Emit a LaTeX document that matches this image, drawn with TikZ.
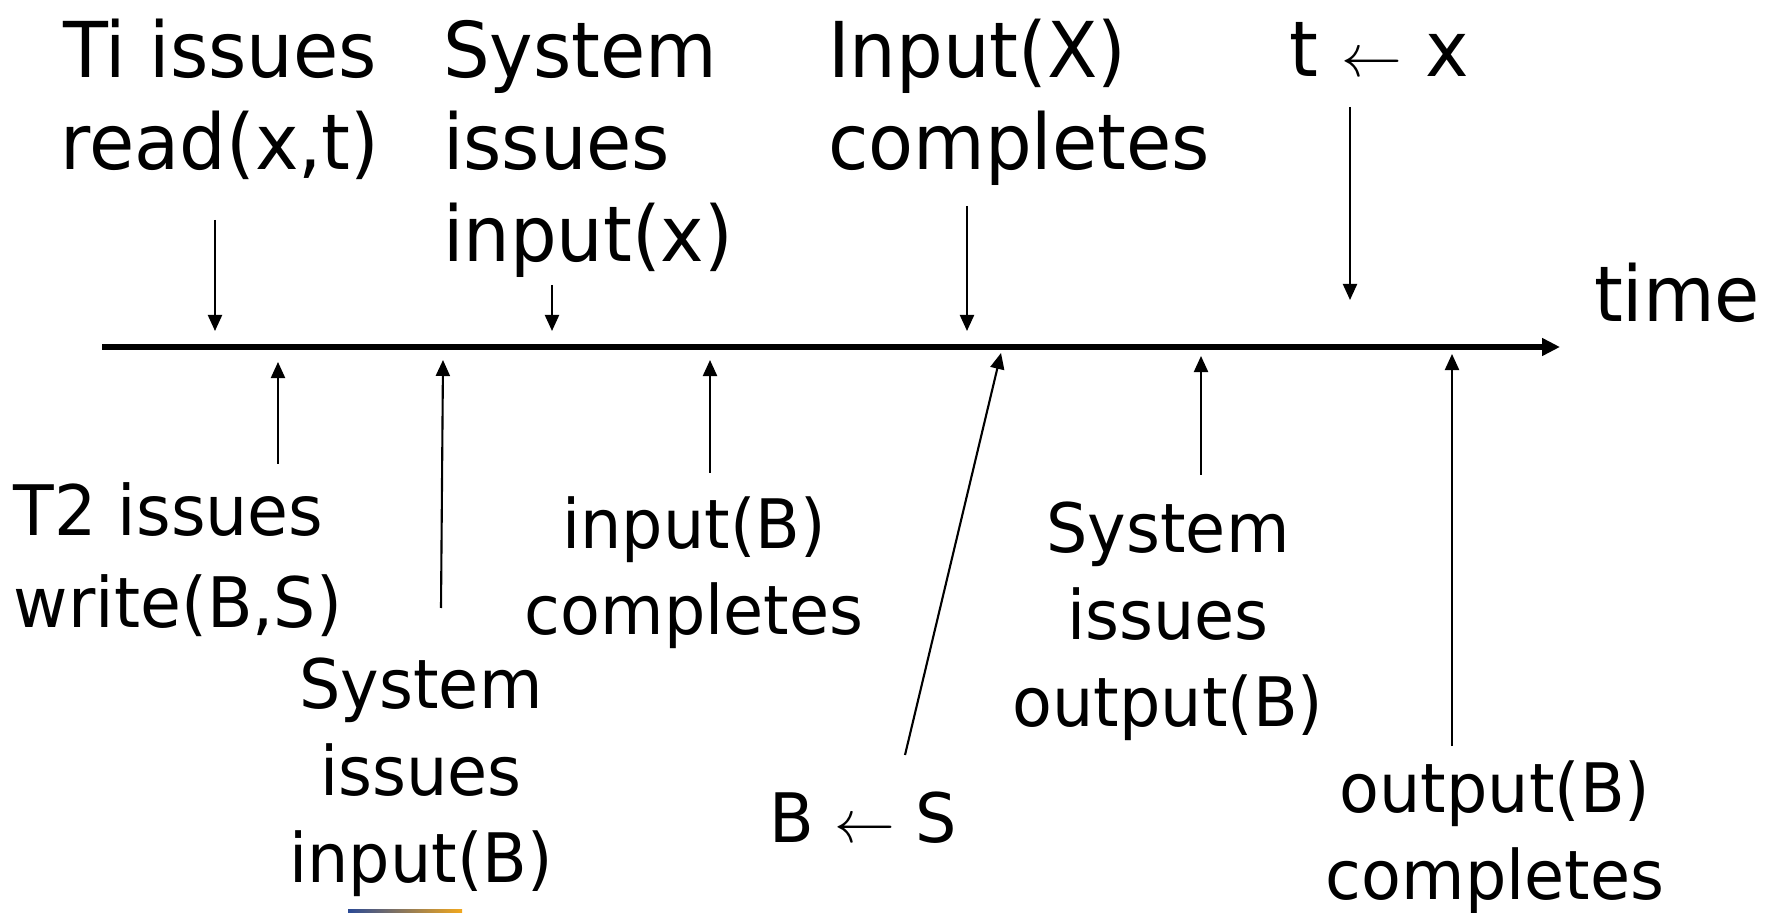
\documentclass[tikz,border=0pt]{standalone}
\usepackage{fontspec}
\setmainfont{DejaVu Sans}[FakeStretch=0.955]
\usepackage{tikz}
\usetikzlibrary{arrows.meta,positioning,calc}
\definecolor{logoblue}{HTML}{2B4A96}
\definecolor{logoorange}{HTML}{F2A81D}
\newcommand{\tinyarrow}{{\fontsize{16}{16}\selectfont$\leftarrow$}}

\begin{document}
\begin{tikzpicture}[x=0.01cm,y=-0.01cm,
    every node/.style={inner sep=0pt,outer sep=0pt},
    toplbl/.style={font=\fontsize{21.9}{26.3}\selectfont},
    botlbl/.style={font=\fontsize{19.4}{24.7}\selectfont},
    arr/.style={-{Triangle[length=0.16cm,width=0.14cm]},line width=0.6pt},
    axis/.style={-{Triangle[length=0.18cm,width=0.17cm]},line width=1.7pt}
]
\useasboundingbox (0,0) rectangle (1773,913);

% time line
\coordinate (t0) at (102,347);
\coordinate (t1) at (1560,347);
\draw[axis] (t0) -- (t1);
\node[toplbl,anchor=base west] (time) at (1594,322) {time};

% events above the line (anchored on the last baseline)
\node[toplbl,anchor=base,align=center] (ti) at (220,170) {Ti issues\\read(x,t)};
\node[toplbl,anchor=base west,align=left] (sysx) at (443,262) {System\\issues\\input(x)};
\node[toplbl,anchor=base west,align=left] (inX) at (828,170) {Input(X)\\completes};
\node[toplbl,anchor=base west] (tx) at (1289,77) {t \tinyarrow{} x};

\coordinate (ti-s) at (215,220);  \coordinate (ti-e) at (215,331);
\coordinate (sysx-s) at (552,285); \coordinate (sysx-e) at (552,331);
\coordinate (inX-s) at (967,206);  \coordinate (inX-e) at (967,331);
\coordinate (tx-s) at (1350,107);  \coordinate (tx-e) at (1350,300);
\draw[arr] (ti-s) -- (ti-e);
\draw[arr] (sysx-s) -- (sysx-e);
\draw[arr] (inX-s) -- (inX-e);
\draw[arr] (tx-s) -- (tx-e);

% events below the line
\node[botlbl,font=\fontsize{19.8}{26.3}\selectfont,anchor=base west,align=left] (t2) at (14,628) {T2 issues\\write(B,S)};
\node[botlbl,anchor=base,align=center] (sysB) at (421,882) {System\\issues\\input(B)};
\node[botlbl,anchor=base,align=center] (inB) at (694,635) {input(B)\\completes};
\node[botlbl,anchor=base west] (bs) at (769,842) {B \tinyarrow{} S};
\node[botlbl,anchor=base,align=center] (sysout) at (1168,726) {System\\issues\\output(B)};
\node[botlbl,anchor=base,align=center] (outB) at (1495,899) {output(B)\\completes};

\coordinate (t2-s) at (278,464);     \coordinate (t2-e) at (278,362);
\coordinate (sysB-s) at (441,608);   \coordinate (sysB-e) at (443,360);
\coordinate (inB-s) at (710,473);    \coordinate (inB-e) at (710,360);
\coordinate (bs-s) at (905,755);     \coordinate (bs-e) at (1001,353);
\coordinate (sysout-s) at (1201,475); \coordinate (sysout-e) at (1201,356);
\coordinate (outB-s) at (1452,746);  \coordinate (outB-e) at (1452,354);
\draw[arr] (t2-s) -- (t2-e);
\draw[arr] (sysB-s) -- (sysB-e);
\draw[arr] (inB-s) -- (inB-e);
\draw[arr] (bs-s) -- (bs-e);
\draw[arr] (sysout-s) -- (sysout-e);
\draw[arr] (outB-s) -- (outB-e);

\shade[left color=logoblue,right color=logoorange] (348,909) rectangle (462,913);
\end{tikzpicture}
\end{document}
